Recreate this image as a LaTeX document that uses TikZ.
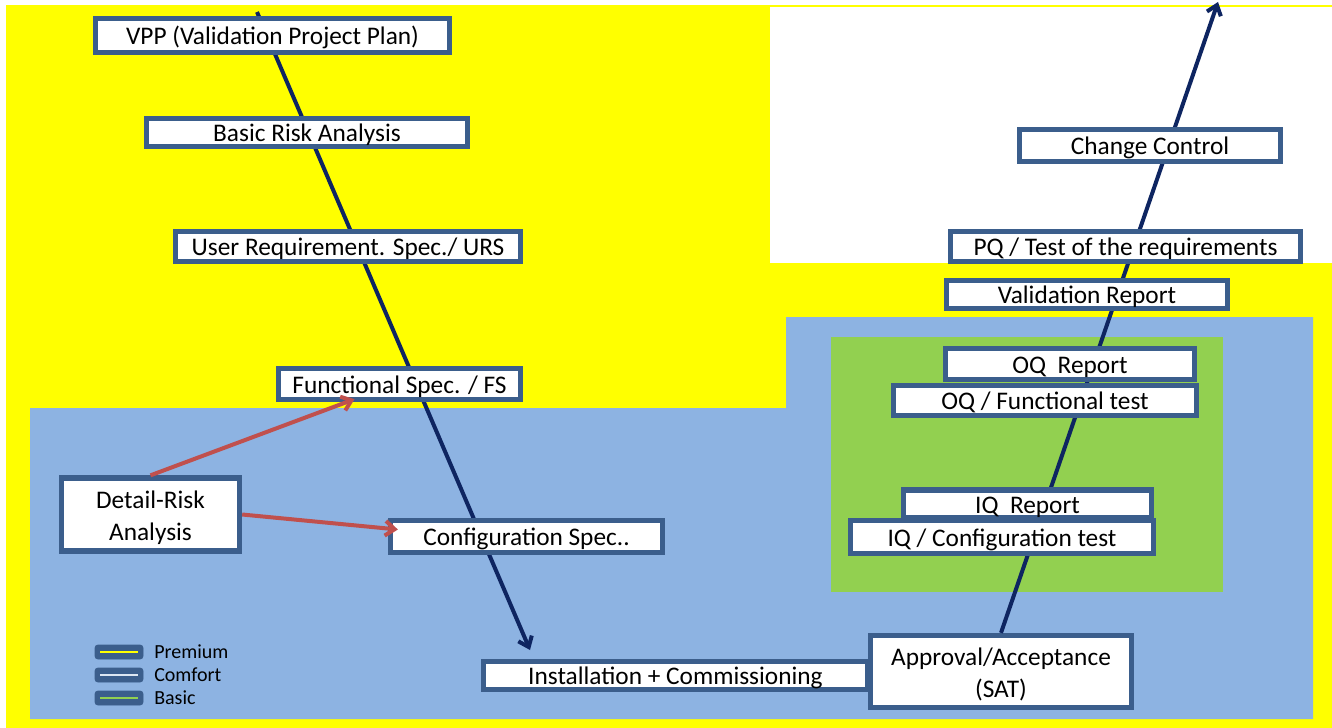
\documentclass[tikz,border=0pt]{standalone}
\usepackage{fontspec}
\setmainfont{Carlito}
\usetikzlibrary{arrows.meta}
\definecolor{premium}{HTML}{FFFF00}
\definecolor{comfort}{HTML}{8DB3E2}
\definecolor{comfortln}{HTML}{DCE6F2}
\definecolor{basic}{HTML}{92D050}
\definecolor{boxline}{HTML}{3B5E8C}
\definecolor{vline}{HTML}{0E2561}
\definecolor{riskred}{HTML}{C0504D}
\newcommand\VBox[6]{
  \node[vbox, oneline, minimum width=#4*0.75pt, minimum height=#5*0.75pt] (#1) at (#2,#3) {#6};
}

\begin{document}
\begin{tikzpicture}[x=0.75pt, y=-0.75pt,
  vbox/.style={draw=boxline, line width=4pt, fill=white, inner sep=0pt,
    align=center, font=\fontsize{19}{24}\selectfont},
  oneline/.style={text height=17.5pt, text depth=3.5pt},
  vpath/.style={vline, line width=3pt, -{Straight Barb[length=7pt,width=11pt]}},
  riskarrow/.style={riskred, line width=3pt, -{Straight Barb[length=7pt,width=11pt]}}]
\useasboundingbox (0,0) rectangle (1332,728);
\fill[white] (0,0) rectangle (1332,728);
\fill[premium] (6,5) rectangle (1332,728);
\fill[white] (770,7) rectangle (1332,263);
\fill[comfort] (30,408) -- (786,408) -- (786,317) -- (1313,317)
  -- (1313,719) -- (30,719) -- cycle;
\fill[basic] (831,337) rectangle (1223,592);

\coordinate (vtop) at (257,12);
\coordinate (vbot) at (530,650);
\coordinate (vend) at (1218,2);
\draw[vpath] (vtop) -- (vbot);

\VBox{vpp}{272.5}{35.5}{354}{34}{VPP (Validation Project Plan)}
\VBox{bra}{307}{132.5}{321}{28}{Basic Risk Analysis}
\VBox{urs}{348}{246.5}{345}{30}{User Requirement. Spec./ URS}
\VBox{fs}{399.5}{384}{242}{31}{Functional Spec. / FS}
\node[vbox, minimum width=178*0.75pt, minimum height=73*0.75pt] (dr) at (150.5,514.5) {\rule{0pt}{17.5pt}Detail-Risk\\Analysis};
\VBox{cs}{526.5}{536.5}{272}{32}{Configuration Spec..}
\VBox{ic}{675.5}{675.5}{384}{26}{Installation + Commissioning}
\node[vbox, minimum width=261*0.75pt, minimum height=72*0.75pt] (apr) at (1001,671.5) {\rule{0pt}{18pt}Approval/Acceptance\\(SAT)};

\draw[vpath] (apr.north) -- (vend);

\VBox{iqr}{1027.5}{504}{248}{27}{IQ\ \ Report}
\VBox{iqc}{1002}{537}{303}{33}{IQ / Configuration test}
\VBox{oqr}{1070}{364}{249}{31}{OQ\ \ Report}
\VBox{oqf}{1045}{400.5}{303}{30}{OQ / Functional test}
\VBox{vr}{1087}{294.5}{281}{26}{Validation Report}
\VBox{pq}{1125.5}{246.5}{350}{30}{PQ / Test of the requirements}
\VBox{cc}{1150}{145.5}{261}{32}{Change Control}

\draw[riskarrow] (dr.north) -- ([shift={(-45,-3)}]fs.south);
\draw[riskarrow] (dr.east) -- ([shift={(10,-7)}]cs.west);

% legend
\foreach \c/\t [count=\i] in {premium/Premium, comfortln/Comfort, basic/Basic}
{
  \filldraw[boxline, rounded corners=2pt] (95,622+23*\i) rectangle (143,636+23*\i);
  \draw[\c, line width=1.6pt] (100,629+23*\i) -- (138,629+23*\i);
  \node[anchor=west, inner sep=0pt, font=\fontsize{15}{17}\selectfont] (leg\i) at (154,629+23*\i) {\t};
}
\end{tikzpicture}
\end{document}
